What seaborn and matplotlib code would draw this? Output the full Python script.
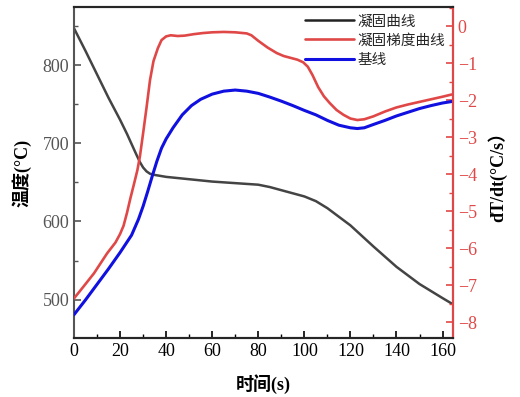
import numpy as np
import pandas as pd
import matplotlib
matplotlib.use('Agg')
import matplotlib.pyplot as plt
from matplotlib.ticker import MultipleLocator
import seaborn as sns

# ---------------- données ----------------
t_temp = [0, 5, 10, 15, 20, 23, 25, 27, 28.6, 30, 31.5, 33, 35, 40, 50, 60,
          70, 80, 85, 90, 95, 100, 105, 110, 115, 120, 130, 140, 150, 160, 164]
temp = [847, 818, 788, 758, 730, 712, 699, 686, 676, 669, 664, 661, 659.5,
        657, 654, 651, 649, 647, 644, 640, 636, 632, 626, 617, 606, 595, 568,
        542, 520, 502, 495]

t_grad = [0, 4, 8.7, 14.4, 18, 20, 21.5, 23, 24.5, 26, 27.5, 28.6, 30, 31.5,
          33, 34.5, 36.4, 38, 40, 42, 45, 48, 52, 56, 60, 65, 70, 75, 77, 80,
          84, 88, 91, 94, 97, 99.5, 101.5, 103.5, 106, 108.5, 111, 114, 117,
          120, 123, 126, 130, 135, 140, 145, 150, 155, 160, 164]
grad = [-7.36, -7.05, -6.68, -6.14, -5.85, -5.62, -5.4, -5.05, -4.65, -4.28,
        -3.9, -3.53, -2.9, -2.2, -1.46, -0.95, -0.6, -0.38, -0.28, -0.25,
        -0.27, -0.26, -0.22, -0.19, -0.17, -0.16, -0.17, -0.2, -0.25, -0.4,
        -0.58, -0.73, -0.81, -0.86, -0.91, -0.98, -1.1, -1.32, -1.65, -1.9,
        -2.08, -2.27, -2.4, -2.5, -2.54, -2.52, -2.44, -2.31, -2.2, -2.12,
        -2.05, -1.98, -1.91, -1.85]

t_base = [0, 5, 10, 15, 20, 25, 28, 30, 32, 34, 36, 38, 40, 43, 47, 51, 55,
          60, 65, 70, 75, 80, 85, 90, 95, 100, 105, 110, 115, 120, 123, 126,
          130, 135, 140, 145, 150, 155, 160, 164]
base = [-7.8, -7.4, -6.98, -6.56, -6.12, -5.65, -5.22, -4.87, -4.47, -4.05,
        -3.65, -3.3, -3.05, -2.75, -2.4, -2.15, -1.98, -1.84, -1.76, -1.73,
        -1.76, -1.82, -1.92, -2.03, -2.15, -2.28, -2.4, -2.55, -2.68, -2.75,
        -2.77, -2.75, -2.66, -2.55, -2.43, -2.33, -2.23, -2.15, -2.08, -2.04]

labels = ['凝固曲线', '凝固梯度曲线', '基线']
ylabel_left = '温度(°C)'
ylabel_right = 'dT/dt(°C/s）'
xlabel = '时间(s)'

# ---------------- style ----------------
sns.set_style('white')
fam = ['Liberation Serif', 'Noto Sans CJK SC']
plt.rcParams['font.family'] = fam
plt.rcParams['axes.unicode_minus'] = True

c_black = '#444444'
c_red = '#e04848'
c_blue = '#1010e0'

fig = plt.figure(figsize=(5.2, 3.97), dpi=100)
ax = fig.add_axes([0.1423, 0.1486, 0.7287, 0.8334])
ax2 = ax.twinx()

df_t = pd.DataFrame({'t': t_temp, 'v': temp})
df_g = pd.DataFrame({'t': t_grad, 'v': grad})
df_b = pd.DataFrame({'t': t_base, 'v': base})

sns.lineplot(data=df_t, x='t', y='v', ax=ax, color=c_black, lw=1.8)
sns.lineplot(data=df_g, x='t', y='v', ax=ax2, color=c_red, lw=1.9)
sns.lineplot(data=df_b, x='t', y='v', ax=ax2, color=c_blue, lw=2.2)

ax.set_xlim(0, 164.5)
ax.set_ylim(451, 874)
ax2.set_ylim(-8.43, 0.51)

ax.xaxis.set_major_locator(MultipleLocator(20))
ax.xaxis.set_minor_locator(MultipleLocator(10))
ax.yaxis.set_major_locator(MultipleLocator(100))
ax.yaxis.set_minor_locator(MultipleLocator(50))
ax2.yaxis.set_major_locator(MultipleLocator(1))
ax2.yaxis.set_minor_locator(MultipleLocator(0.5))

ax.tick_params(axis='x', which='both', direction='in', colors='black',
               labelsize=13, bottom=True, top=False)
ax.tick_params(axis='x', which='major', length=5, width=1.2)
ax.tick_params(axis='x', which='minor', length=3, width=1.0)
ax.tick_params(axis='y', which='both', direction='in', colors='#555555',
               labelsize=13, left=True)
ax.tick_params(axis='y', which='major', length=5, width=1.2)
ax.tick_params(axis='y', which='minor', length=3, width=1.0)
ax2.tick_params(axis='y', which='both', direction='in', colors=c_red,
                labelsize=13, right=True)
ax2.tick_params(axis='y', which='major', length=5, width=1.2)
ax2.tick_params(axis='y', which='minor', length=3, width=1.0)

for a in (ax, ax2):
    for s in a.spines.values():
        s.set_linewidth(1.5)
ax.spines['left'].set_color('#555555')
ax.spines['bottom'].set_color('black')
ax.spines['top'].set_color('black')
ax2.spines['right'].set_color(c_red)
ax2.spines['left'].set_visible(False)

lab_font = dict(family=fam, fontsize=13, fontweight='bold', color='black')
ax.set_xlabel(xlabel, labelpad=10, **lab_font)
ax.set_ylabel(ylabel_left, labelpad=8, **lab_font)
ax2.set_ylabel(ylabel_right, labelpad=8, **lab_font)

handles = [ax.lines[0], ax2.lines[0], ax2.lines[1]]
leg = ax2.legend(handles, labels, loc='upper right', frameon=False,
                 bbox_to_anchor=(1.0, 1.0), borderaxespad=0.1,
                 handlelength=3.3, handletextpad=0.3, labelspacing=0.35,
                 prop={'family': 'Noto Sans CJK SC', 'size': 10.5})
leg.get_lines()[0].set_color('#222222')

fig.savefig('out.png', dpi=100)
